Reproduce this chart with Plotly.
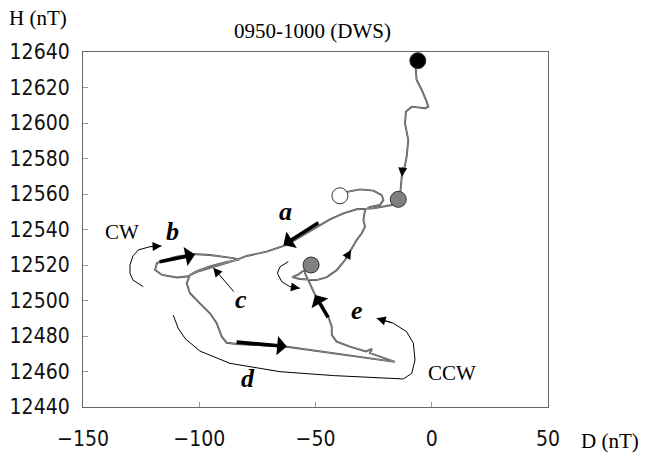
import plotly.graph_objects as go

# Hodogram of the D and H components, 0950-1000 (DWS)
path_d = [-6.0, -6.9, -6.5, -4.3, -2.2, -1.5, -2.9, -8.6, -11.1, -11.5, -10.1, -10.8,
          -11.9, -12.9, -13.4, -14.4,
          -17.2, -25.1, -32.3, -38.0, -43.8, -53.8, -62.4, -71.0, -79.6, -84.2,
          -94.1, -101.0, -105.3, -109.6, -116.0, -119.0, -118.2, -110.4, -102.7,
          -95.4, -85.5, -82.9, -88.9, -95.4, -101.0, -104.0, -105.4, -104.0, -99.7,
          -95.4, -92.5, -90.3, -88.2, -83.9, -63.1, -42.5, -27.8, -15.8, -26.6,
          -25.7, -28.3, -35.2, -40.9, -43.0, -43.0, -44.5, -49.5, -51.6, -53.1,
          -54.5, -54.1, -57.5, -60.1, -56.7, -49.5, -45.1, -40.8, -37.3, -34.7,
          -32.3, -30.1, -28.7, -29.4, -28.7, -26.6, -22.3, -20.8, -21.5, -25.1,
          -30.9, -35.9, -39.5]
path_h = [12635.1, 12630.8, 12624.2, 12618.6, 12612.0, 12609.2, 12608.3, 12609.2,
          12606.4, 12599.8, 12590.4, 12581.0, 12573.5, 12569.7, 12562.3, 12557.0,
          12553.8, 12551.9, 12551.4, 12549.1, 12545.7, 12537.9, 12531.3, 12527.5,
          12525.1, 12522.8, 12518.9, 12516.1, 12513.5, 12513.0, 12514.4, 12517.2,
          12521.1, 12524.5, 12526.2, 12525.6, 12523.9, 12523.1, 12521.4, 12519.2,
          12516.6, 12514.4, 12509.7, 12504.1, 12498.4, 12492.8, 12487.2, 12479.6,
          12476.2, 12475.5, 12474.1, 12470.4, 12467.6, 12465.4, 12470.4, 12472.7,
          12471.3, 12474.0, 12476.8, 12480.6, 12485.2, 12490.9, 12501.2, 12507.8,
          12511.5, 12515.3, 12517.7, 12514.6, 12513.2, 12512.1, 12511.5, 12513.2,
          12517.2, 12522.8, 12528.5, 12534.1, 12537.9, 12541.6, 12545.4, 12551.0,
          12552.8, 12553.8, 12556.6, 12559.4, 12561.9, 12562.6, 12561.3, 12559.0]

# Time markers: start, intermediate, intermediate, end
mark_d = [-6.0, -14.4, -51.9, -39.5]
mark_h = [12635.1, 12557.0, 12520.0, 12559.0]
mark_fill = ["#000000", "#808080", "#808080", "#ffffff"]

# Thick direction arrows along the trajectory: (tail D, tail H, head D, head H)
thick_arrows = [
    (-48.1, 12544.4, -63.8, 12531.3),   # a
    (-117.7, 12521.7, -101.8, 12525.9), # b
    (-84.6, 12476.6, -62.3, 12474.1),   # d
    (-44.2, 12489.6, -50.2, 12503.1),   # e
]
# Small arrowheads on the trajectory itself
path_heads = [
    (-12.4, 12576.0, -12.9, 12569.7),
    (-37.3, 12522.8, -34.7, 12528.5),
]
# Pointer to segment c
pointer_c = (-84.6, 12504.2, -94.0, 12518.5)

# Curved rotation-sense arrows
cw_d = [-124.1, -128.5, -129.8, -129.8, -128.5, -126.2, -121.2, -116.2]
cw_h = [12507.8, 12511.5, 12515.3, 12520.0, 12525.1, 12528.5, 12530.3, 12530.7]
loop_d = [-61.7, -65.3, -66.4, -64.5, -61.0, -56.7]
loop_h = [12521.9, 12519.0, 12515.3, 12510.6, 12507.8, 12506.9]
ccw_d = [-111.2, -109.1, -106.1, -99.7, -86.8, -65.3, -42.3, -20.8, -12.2, -8.6,
         -7.2, -7.9, -10.8, -16.5, -23.7]
ccw_h = [12491.8, 12484.5, 12478.6, 12471.5, 12464.6, 12459.9, 12457.7, 12456.2,
         12455.8, 12459.0, 12466.5, 12475.9, 12482.4, 12487.2, 12490.0]

# Segment labels
seg_labels = ["a", "b", "c", "d", "e"]
seg_d = [-63.1, -111.7, -82.0, -79.0, -32.2]
seg_h = [12549.9, 12538.6, 12500.3, 12456.3, 12494.6]
sense_labels = ["CW", "CCW"]
sense_d = [-133.2, 8.7]
sense_h = [12538.6, 12459.2]

x_ticks = [-150, -100, -50, 0, 50]
y_ticks = list(range(12440, 12641, 20))

SERIF = "Liberation Serif, Times New Roman, serif"
NARROW = "Liberation Sans Narrow, Arial Narrow, DejaVu Sans Condensed, sans-serif"

fig = go.Figure()

# trajectory: dark outline with a lighter core
fig.add_trace(go.Scatter(x=path_d, y=path_h, mode="lines",
                         line=dict(color="#4a4a4a", width=1.9), hoverinfo="skip"))
fig.add_trace(go.Scatter(x=path_d, y=path_h, mode="lines",
                         line=dict(color="#b4b4b4", width=0.6), hoverinfo="skip"))

for xs, ys in [(cw_d, cw_h), (loop_d, loop_h), (ccw_d, ccw_h)]:
    fig.add_trace(go.Scatter(x=xs, y=ys, mode="lines", line=dict(color="black", width=1),
                             hoverinfo="skip"))

fig.add_trace(go.Scatter(x=mark_d, y=mark_h, mode="markers",
                         marker=dict(size=16, color=mark_fill,
                                     line=dict(color="#333333", width=1)),
                         hoverinfo="skip"))

annotations = []


def arrow(tail_x, tail_y, head_x, head_y, width, size, head):
    return dict(x=head_x, y=head_y, ax=tail_x, ay=tail_y, xref="x", yref="y",
                axref="x", ayref="y", text="", showarrow=True, arrowhead=head,
                arrowsize=size, arrowwidth=width, arrowcolor="black")


for t in thick_arrows:
    annotations.append(arrow(*t, width=3.6, size=0.9, head=1))
for t in path_heads:
    annotations.append(arrow(*t, width=1, size=1.8, head=2))
annotations.append(arrow(*pointer_c, width=1, size=1.8, head=2))
# heads of the curved arrows, continuing the last segment of each curve
for xs, ys in [(cw_d, cw_h), (loop_d, loop_h), (ccw_d, ccw_h)]:
    annotations.append(arrow(xs[-2], ys[-2], xs[-1], ys[-1], width=1, size=1.8, head=2))

for lab, x, y in zip(seg_labels, seg_d, seg_h):
    annotations.append(dict(x=x, y=y, xref="x", yref="y", text="<b><i>%s</i></b>" % lab,
                            showarrow=False, xanchor="center", yanchor="middle",
                            font=dict(family=SERIF, size=26, color="black")))
for lab, x, y in zip(sense_labels, sense_d, sense_h):
    annotations.append(dict(x=x, y=y, xref="x", yref="y", text=lab, showarrow=False,
                            xanchor="center", yanchor="middle",
                            font=dict(family=SERIF, size=21, color="black")))

for txt, px, py in [("0950-1000 (DWS)", 0.4925, 1.059),
                    ("H (nT)", -0.097, 1.096),
                    ("D (nT)", 1.133, -0.096)]:
    annotations.append(dict(x=px, y=py, xref="paper", yref="paper", text=txt,
                            showarrow=False, xanchor="center", yanchor="middle",
                            font=dict(family=SERIF, size=21, color="black")))

axis_common = dict(showgrid=False, zeroline=False, showline=True, mirror=True,
                   linecolor="#666666", linewidth=1.2, ticks="inside", ticklen=5,
                   tickcolor="#999999", automargin=False,
                   tickfont=dict(family=NARROW, size=21, color="#111111"))

fig.update_layout(
    width=649, height=456,
    margin=dict(l=83, r=101, t=52, b=49),
    paper_bgcolor="white", plot_bgcolor="white",
    showlegend=False,
    annotations=annotations,
    xaxis=dict(range=[-150, 50], tickvals=x_ticks, ticklabelstandoff=13, **axis_common),
    yaxis=dict(range=[12440, 12640], tickvals=y_ticks, tickformat="d",
               ticklabelstandoff=8, **axis_common),
)

fig.write_html("out.html", config={"displayModeBar": False})
